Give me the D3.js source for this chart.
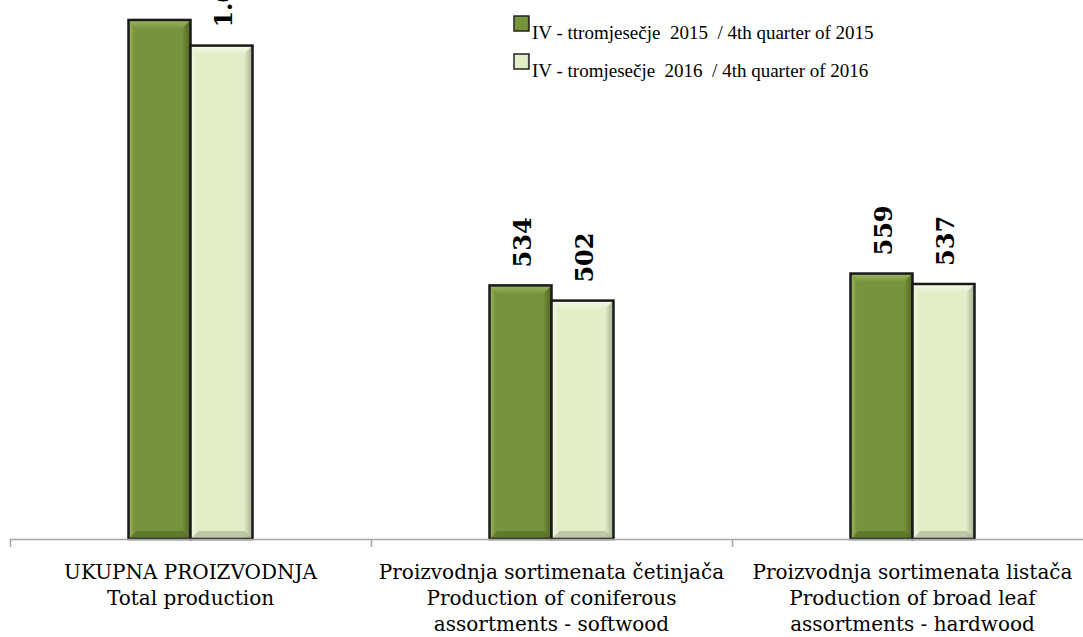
<!DOCTYPE html>
<html>
<head>
<meta charset="utf-8">
<script src="https://cdn.jsdelivr.net/npm/d3@7"></script>
<style>
  body { margin: 0; background: #fff; overflow: hidden; }
</style>
</head>
<body>
<div id="chart"></div>
<script>
var categories = [
  ["UKUPNA PROIZVODNJA", "Total production"],
  ["Proizvodnja sortimenata četinjača", "Production of coniferous", "assortments - softwood"],
  ["Proizvodnja sortimenata listača", "Production of broad leaf", "assortments - hardwood"]
];
var seriesNames = [
  "IV - ttromjesečje  2015  / 4th quarter of 2015",
  "IV - tromjesečje  2016  / 4th quarter of 2016"
];
var values2015 = [1093, 534, 559];
var values2016 = [1039, 502, 537];
var labels2015 = ["1.093", "534", "559"];
var labels2016 = ["1.039", "502", "537"];

var svgWidth = 1083, svgHeight = 637;
var baseY = 539;

var svg = d3.select("#chart").append("svg")
    .attr("width", svgWidth)
    .attr("height", svgHeight);

var defs = svg.append("defs");
var colors = [
  {base: "#77933c", light: "#9cb85e", dark: "#4f6424", id: "g0"},
  {base: "#e2eec8", light: "#f4f9ea", dark: "#a3ac90", id: "g1"}
];
colors.forEach(function(c) {
  var h = defs.append("linearGradient").attr("id", c.id + "h")
      .attr("x1", 0).attr("x2", 1).attr("y1", 0).attr("y2", 0);
  h.append("stop").attr("offset", "0%").attr("stop-color", c.light);
  h.append("stop").attr("offset", "10%").attr("stop-color", c.base);
  h.append("stop").attr("offset", "86%").attr("stop-color", c.base);
  h.append("stop").attr("offset", "100%").attr("stop-color", c.dark);
  var v = defs.append("linearGradient").attr("id", c.id + "v")
      .attr("x1", 0).attr("x2", 0).attr("y1", 0).attr("y2", 1);
  v.append("stop").attr("offset", "0%").attr("stop-color", c.light);
  v.append("stop").attr("offset", "100%").attr("stop-color", c.base);
});

var x0 = d3.scaleBand()
    .domain(d3.range(categories.length))
    .range([10, 1093])
    .paddingInner(0)
    .paddingOuter(0);

var y = d3.scaleLinear()
    .domain([0, 1135])
    .range([baseY, 0]);

var data = [];
categories.forEach(function(c, i) {
  data.push({cat: i, s: 0, v: values2015[i], label: labels2015[i]});
  data.push({cat: i, s: 1, v: values2016[i], label: labels2016[i]});
});

var barW = 62;
function bx(d) { return x0(d.cat) + x0.bandwidth() / 2 + (d.s === 0 ? -barW : 0); }

var bars = svg.append("g").selectAll("g.bar")
    .data(data)
    .enter()
    .append("g")
    .attr("class", "bar");

bars.append("rect")
    .attr("x", function(d) { return bx(d); })
    .attr("y", function(d) { return y(d.v); })
    .attr("width", barW)
    .attr("height", function(d) { return baseY - y(d.v); })
    .attr("fill", function(d) { return "url(#" + colors[d.s].id + "h)"; });

// bevel on top edge
bars.append("path")
    .attr("d", function(d) {
      var l = bx(d), r = l + barW, t = y(d.v), b = 9;
      return "M" + l + "," + t + "L" + r + "," + t + "L" + (r - b) + "," + (t + b) + "L" + (l + b) + "," + (t + b) + "Z";
    })
    .attr("fill", function(d) { return "url(#" + colors[d.s].id + "v)"; });

// bevel on bottom edge
bars.append("path")
    .attr("d", function(d) {
      var l = bx(d), r = l + barW, bt = baseY, b = 8;
      return "M" + l + "," + bt + "L" + r + "," + bt + "L" + (r - b) + "," + (bt - b) + "L" + (l + b) + "," + (bt - b) + "Z";
    })
    .attr("fill", function(d) { return colors[d.s].dark; })
    .attr("opacity", 0.55);

bars.append("rect")
    .attr("x", function(d) { return bx(d); })
    .attr("y", function(d) { return y(d.v); })
    .attr("width", barW)
    .attr("height", function(d) { return baseY - y(d.v); })
    .attr("fill", "none")
    .attr("stroke", "#1a1a1a")
    .attr("stroke-width", 2.5);

// value labels
bars.append("text")
    .attr("transform", function(d) {
      return "translate(" + (bx(d) + barW / 2 + 10) + "," + (y(d.v) - 18) + ") rotate(-90)";
    })
    .style("font-family", "'DejaVu Serif', serif")
    .style("font-weight", "bold")
    .style("font-size", "24px")
    .style("fill", "#000")
    .text(function(d) { return d.label; });

// axis
var axisG = svg.append("g")
    .attr("transform", "translate(0," + baseY + ")");
axisG.append("line")
    .attr("x1", 10).attr("x2", svgWidth)
    .attr("y1", 0.5).attr("y2", 0.5)
    .attr("stroke", "#a6a6a6")
    .attr("stroke-width", 1.5);
axisG.selectAll("line.tick")
    .data(d3.range(categories.length + 1))
    .enter()
    .append("line")
    .attr("class", "tick")
    .attr("x1", function(d) { return 10.5 + d * x0.bandwidth(); })
    .attr("x2", function(d) { return 10.5 + d * x0.bandwidth(); })
    .attr("y1", 0).attr("y2", 8)
    .attr("stroke", "#a6a6a6")
    .attr("stroke-width", 1.5);

var catLabels = svg.append("g").selectAll("text")
    .data(categories)
    .enter()
    .append("text")
    .attr("text-anchor", "middle")
    .style("font-family", "'DejaVu Serif', serif")
    .style("font-size", "20px")
    .style("fill", "#000");
catLabels.selectAll("tspan")
    .data(function(d, i) { return d.map(function(t) { return {t: t, i: i}; }); })
    .enter()
    .append("tspan")
    .attr("x", function(d) { return x0(d.i) + x0.bandwidth() / 2; })
    .attr("y", function(d, j) { return 579 + j * 26; })
    .text(function(d) { return d.t; });

// legend
var legend = svg.append("g").attr("transform", "translate(514,16)");
var li = legend.selectAll("g")
    .data(seriesNames)
    .enter()
    .append("g")
    .attr("transform", function(d, i) { return "translate(0," + i * 38 + ")"; });
li.append("rect")
    .attr("width", 15).attr("height", 15)
    .attr("fill", function(d, i) { return "url(#" + colors[i].id + "h)"; })
    .attr("stroke", "#222")
    .attr("stroke-width", 1.5);
li.append("text")
    .attr("x", 18)
    .attr("y", 23)
    .style("font-family", "'Liberation Serif', serif")
    .style("font-size", "19px")
    .style("white-space", "pre")
    .style("fill", "#000")
    .text(function(d) { return d; });
</script>
</body>
</html>
